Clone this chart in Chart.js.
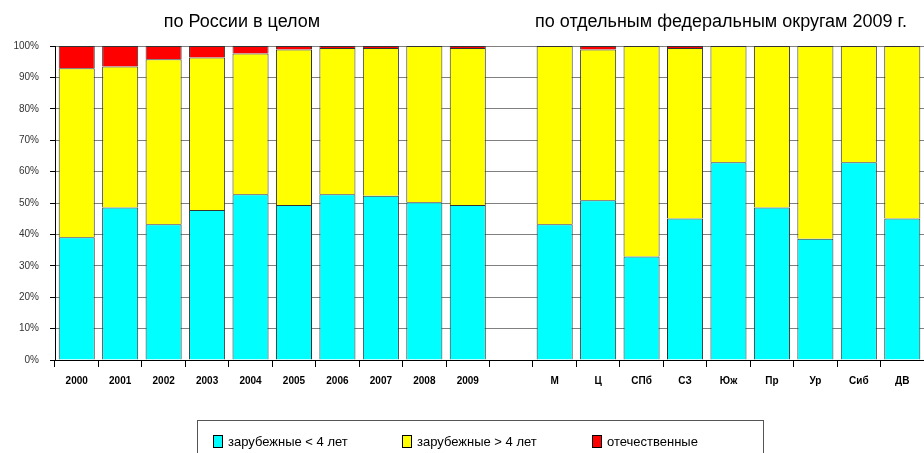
<!DOCTYPE html>
<html>
<head>
<meta charset="utf-8">
<script src="https://cdn.jsdelivr.net/npm/chart.js@4"></script>
<style>
  body { margin: 0; background: #fff; font-family: 'Liberation Sans', Arial, sans-serif; }
  #wrap { position: relative; width: 924px; height: 453px; overflow: hidden; }
  #grafico { position: absolute; left: 0; top: 0; }
  .titulo { position: absolute; top: 11px; font-size: 18px; line-height: 20px; color: #000; white-space: nowrap; transform: translateX(-50%); }
  #legenda { position: absolute; left: 197px; top: 420px; width: 565px; height: 60px; border: 1px solid #555; }
  .item { position: absolute; top: 13px; font-size: 13px; color: #000; white-space: nowrap; line-height: 15px; }
  .item span { display: inline-block; width: 8px; height: 11px; border: 1px solid #000; vertical-align: -2px; margin-right: 5px; }
</style>
</head>
<body>
<div id="wrap">
  <canvas id="grafico" width="924" height="453"></canvas>
  <div class="titulo" style="left:242px">по России в целом</div>
  <div class="titulo" style="left:721px">по отдельным федеральным округам 2009 г.</div>
  <div id="legenda">
    <div class="item" style="left:15px"><span style="background:#00ffff"></span>зарубежные &lt; 4 лет</div>
    <div class="item" style="left:204px"><span style="background:#ffff00"></span>зарубежные &gt; 4 лет</div>
    <div class="item" style="left:394px"><span style="background:#ff0000"></span>отечественные</div>
  </div>
</div>
<script>
// категории: годы, пустой промежуток, округа
const categorias = ['2000', '2001', '2002', '2003', '2004', '2005', '2006', '2007', '2008', '2009', '',
  'М', 'Ц', 'СПб', 'СЗ', 'Юж', 'Пр', 'Ур', 'Сиб', 'ДВ'];

const zarubezhnyeMenee4 = [39.1, 48.6, 43.2, 47.8, 52.8, 49.4, 52.8, 52.3, 50.2, 49.4, null,
  43.2, 50.9, 33.0, 45.1, 63.0, 48.6, 38.6, 63.0, 45.1];
const zarubezhnyeBolee4 = [53.8, 44.9, 52.6, 48.5, 44.8, 49.5, 46.6, 47.1, 49.8, 50.0, null,
  56.8, 48.0, 67.0, 54.3, 37.0, 51.4, 61.4, 37.0, 54.9];
const otechestvennye = [7.1, 6.5, 4.2, 3.7, 2.4, 1.1, 0.6, 0.6, 0, 0.6, null,
  0, 1.1, 0, 0.6, 0, 0, 0, 0, 0];

const fonte = "'Liberation Sans', Arial, sans-serif";

function criarGrafico() {
  const ctx = document.getElementById('grafico').getContext('2d');
  new Chart(ctx, {
    type: 'bar',
    data: {
      labels: categorias,
      datasets: [
        { label: 'зарубежные < 4 лет', data: zarubezhnyeMenee4, backgroundColor: '#00ffff' },
        { label: 'зарубежные > 4 лет', data: zarubezhnyeBolee4, backgroundColor: '#ffff00' },
        { label: 'отечественные', data: otechestvennye, backgroundColor: '#ff0000' }
      ].map(d => Object.assign(d, {
        borderColor: '#333',
        borderWidth: 1,
        barPercentage: 0.83,
        categoryPercentage: 1
      }))
    },
    options: {
      responsive: false,
      animation: false,
      layout: { padding: { top: 46, left: 0, right: 0, bottom: 63 } },
      plugins: { legend: { display: false }, tooltip: { enabled: false } },
      scales: {
        x: {
          stacked: true,
          grid: { drawOnChartArea: false, tickLength: 7, color: '#000' },
          border: { color: '#000' },
          ticks: { font: { family: fonte, size: 10, weight: 'bold' }, color: '#000', padding: 8, maxRotation: 0, autoSkip: false },
          afterFit(s) { s.height = 30; }
        },
        y: {
          stacked: true,
          min: 0,
          max: 100,
          grid: { color: '#808080', tickColor: '#000', tickLength: 5 },
          border: { color: '#000' },
          ticks: { stepSize: 10, callback: v => v + '%', font: { family: fonte, size: 10 }, color: '#333', padding: 11 },
          afterFit(s) { s.width = 55; }
        }
      }
    }
  });
}

window.addEventListener('load', criarGrafico);
</script>
</body>
</html>
